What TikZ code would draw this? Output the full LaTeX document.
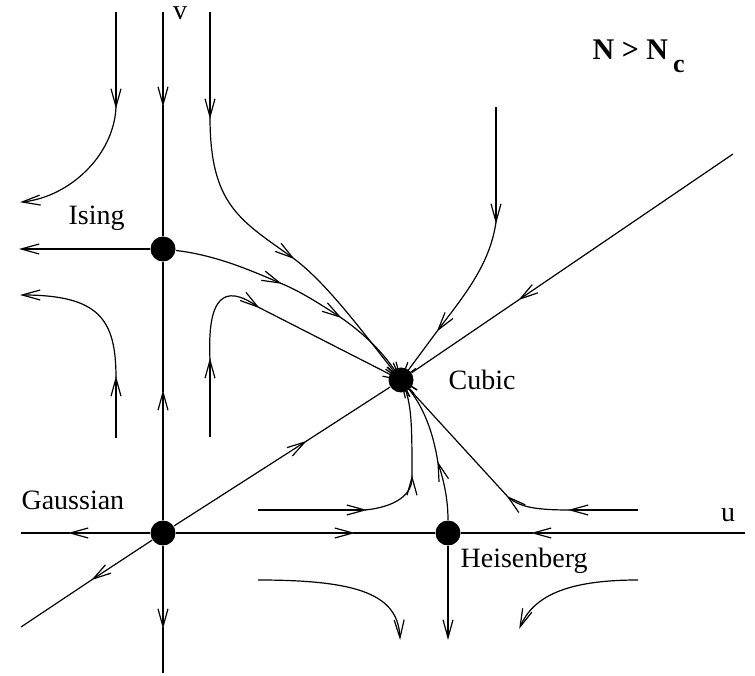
\documentclass[tikz,border=0pt]{standalone}
\usepackage{fontspec}
\setmainfont{Liberation Serif}
\usetikzlibrary{arrows.meta}

\begin{document}
\begin{tikzpicture}[x=0.5pt,y=0.5pt,line width=0.6pt,
  >={Straight Barb[length=9pt,width=5pt]},
  flow/.style={->,shorten >=-1pt},
  fixpt/.style={circle,fill=black,inner sep=0pt,minimum size=12.5pt},
  lbl/.style={font=\fontsize{14}{16}\selectfont,inner sep=0pt}]
\useasboundingbox (0,0) rectangle (755,675);

%fixed points
\node[fixpt] (gauss) at (163,142) {};
\node[fixpt] (ising) at (163,426) {};
\node[fixpt] (cubic) at (401,295) {};
\node[fixpt] (heis) at (448,142) {};

%labels
\node[lbl,anchor=base west] (gausslbl) at (21,165) {Gaussian};
\node[lbl,anchor=base west] (isinglbl) at (68,450) {Ising};
\node[lbl,anchor=base west] (cubiclbl) at (448,285) {Cubic};
\node[lbl,anchor=base west] (heislbl) at (460,107) {Heisenberg};
\node[lbl,anchor=base] (ulbl) at (728,153) {u};
\node[lbl,anchor=base] (vlbl) at (180,655) {v};
\node[anchor=base west,inner sep=0pt,font=\fontsize{15}{17}\selectfont\bfseries] (title) at (592,615)
  {N > N\,\raisebox{-6.5pt}{\fontsize{13}{15}\selectfont c}};

%axes
\coordinate (vt) at (163,663);
\coordinate (va1) at (163,570);
\coordinate (va2) at (163,283);
\coordinate (va3) at (163,48);
\coordinate (vb) at (163,2);
\coordinate (il) at (21,426);
\coordinate (ul) at (21,142);
\coordinate (ua1) at (70,142);
\coordinate (ua2) at (353,142);
\coordinate (ua3) at (533,142);
\coordinate (ur) at (745,142);
\coordinate (dl) at (21,48);
\coordinate (da1) at (93,96);
\coordinate (da2) at (305,233);
\coordinate (da3) at (520,376);
\coordinate (dr) at (733,521);
\draw[flow] (vt) -- (va1); \draw (va1) -- (ising);
\draw[flow] (gauss) -- (va2); \draw (va2) -- (ising);
\draw[flow] (gauss) -- (va3); \draw (va3) -- (vb);
\draw[flow] (ising) -- (il);
\draw[flow] (gauss) -- (ua1); \draw (ua1) -- (ul);
\draw[flow] (gauss) -- (ua2); \draw (ua2) -- (heis);
\draw[flow] (ur) -- (ua3); \draw (ua3) -- (heis);
\draw[flow] (gauss) -- (da1); \draw (da1) -- (dl);
\draw[flow] (gauss) -- (da2); \draw (da2) -- (cubic);
\draw[flow] (dr) -- (da3); \draw (da3) -- (cubic);

%flows left of v
\coordinate (a0) at (116,663);
\coordinate (a1) at (116,568);
\coordinate (a2) at (22,473);
\draw[flow] (a0) -- (a1);
\draw[flow] (a1) .. controls (114,520) and (70,478) .. (a2);
\coordinate (b0) at (116,237);
\coordinate (b1) at (116,297);
\coordinate (b2) at (22,380);
\draw[flow] (b0) -- (b1);
\draw[flow] (b1) .. controls (116,355) and (100,380) .. (b2);

%flows into Cubic from above
\coordinate (c0) at (210,663);
\coordinate (c1) at (210,558);
\coordinate (c2) at (293,417);
\draw[flow] (c0) -- (c1);
\draw[flow] (c1) .. controls (210,470) and (240,455) .. (c2);
\draw[flow] (c2) .. controls (330,390) and (372,330) .. (cubic.center);
\coordinate (d1) at (280,392);
\coordinate (d2) at (340,358);
\draw[flow] (ising) .. controls (215,420) and (250,405) .. (d1);
\draw[flow] (d1) .. controls (300,384) and (320,371) .. (d2);
\draw[flow] (d2) .. controls (362,343) and (385,322) .. (cubic.center);
\coordinate (e0) at (210,238);
\coordinate (e1) at (210,315);
\coordinate (e2) at (258,368);
\draw[flow] (e0) -- (e1);
\draw[flow] (e1) .. controls (207,378) and (224,392) .. (e2);
\draw[flow] (e2) -- (cubic.center);
\coordinate (g0) at (496,568);
\coordinate (g1) at (496,453);
\coordinate (g2) at (438,345);
\draw[flow] (g0) -- (g1);
\draw[flow] (g1) .. controls (490,410) and (463,378) .. (g2);
\draw[flow] (g2) -- (cubic.center);

%flows into Cubic from below
\coordinate (h0) at (258,165);
\coordinate (h1) at (365,165);
\coordinate (h2) at (412,198);
\draw[flow] (h0) -- (h1);
\draw[flow] (h1) .. controls (395,168) and (412,180) .. (h2);
\draw[flow] (h2) .. controls (412,250) and (412,275) .. (cubic.center);
\coordinate (k1) at (438,212);
\draw[flow] (heis) .. controls (448,180) and (442,200) .. (k1);
\draw[flow] (k1) .. controls (432,250) and (420,275) .. (cubic.center);
\coordinate (m0) at (638,165);
\coordinate (m1) at (570,165);
\coordinate (m2) at (508,178);
\draw[flow] (m0) -- (m1);
\draw[flow] (m1) .. controls (535,165) and (520,168) .. (m2);
\draw[flow] (m2) -- (cubic.center);

%flows below u
\coordinate (n0) at (258,95);
\coordinate (n1) at (400,37);
\draw[flow] (n0) .. controls (360,95) and (398,80) .. (n1);
\coordinate (hb) at (448,37);
\draw[flow] (heis) -- (hb);
\coordinate (p0) at (638,95);
\coordinate (p1) at (520,48);
\draw[flow] (p0) .. controls (565,95) and (533,78) .. (p1);

\end{tikzpicture}
\end{document}
